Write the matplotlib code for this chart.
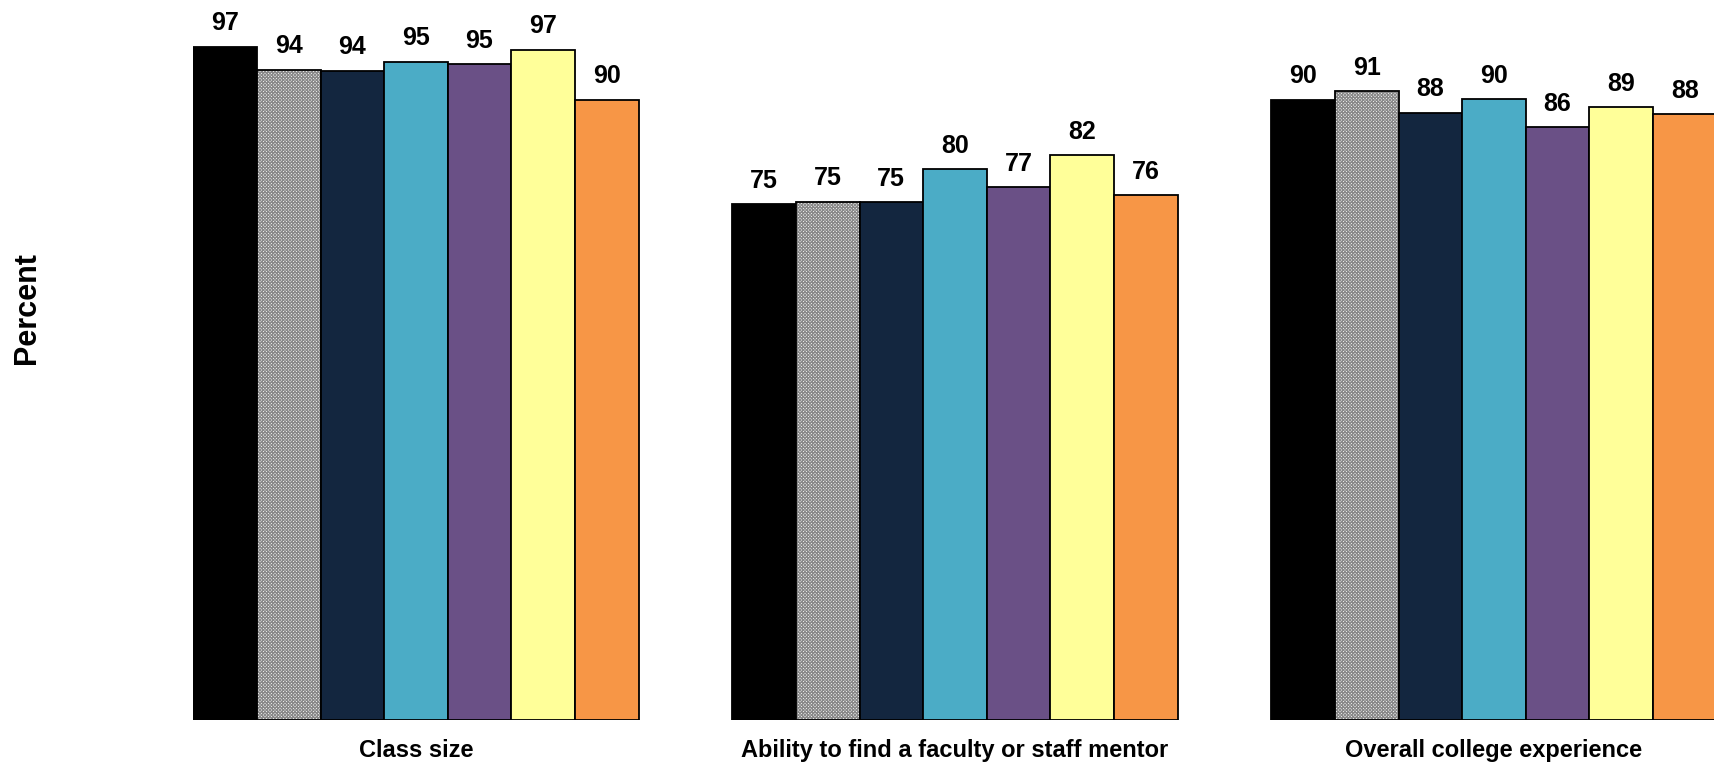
import matplotlib
matplotlib.use("Agg")
import matplotlib.pyplot as plt

plt.rcParams['font.family'] = ['Liberation Sans', 'DejaVu Sans']
plt.rcParams['hatch.linewidth'] = 0.9

# Data (bar heights estimated, labels shown rounded)
categories = ["Class size", "Ability to find a faculty or staff mentor", "Overall college experience"]
class_size = [97.0, 93.8, 93.7, 94.9, 94.6, 96.6, 89.6]
mentor = [75.0, 75.4, 75.3, 79.9, 77.4, 81.9, 76.3]
overall = [89.6, 90.8, 87.8, 89.7, 85.8, 88.6, 87.6]
series_values = [class_size, mentor, overall]

bar_colors = ["#000000", "#ffffff", "#13263f", "#4bacc6", "#6a5086", "#ffff99", "#f79646"]
hatched = 1  # second bar in every group is the grey checkered one

W, H = 1714, 764
fig = plt.figure(figsize=(W / 100, H / 100), dpi=100)

# axes placed in pixels so bars line up with the reference
left_px, base_px, top_px = 193.3, 720, 25.5
bar_px = 63.6
ax = fig.add_axes([left_px / W, (H - base_px) / H, (W - left_px) / W, (base_px - top_px) / H])
ymin, ymax = 3, 100
ax.set_ylim(ymin, ymax)
ax.set_xlim(0, (W - left_px) / bar_px)
ax.axis('off')

group_step = 8.475

for g, vals in enumerate(series_values):
    x0 = g * group_step
    for i, v in enumerate(vals):
        x = x0 + i
        if i == hatched:
            ax.bar(x, v - ymin, bottom=ymin, width=1, align='edge', color='white',
                   edgecolor='#8a8a8a', hatch='x' * 10, linewidth=0)
            ax.bar(x, v - ymin, bottom=ymin, width=1, align='edge', fill=False,
                   edgecolor='black', linewidth=1.3)
        else:
            ax.bar(x, v - ymin, bottom=ymin, width=1, align='edge', color=bar_colors[i],
                   edgecolor='black', linewidth=1.3)
        ax.annotate(f"{v:.0f}", (x + 0.5, v), xytext=(0, 11.9), textcoords='offset points',
                    ha='center', va='baseline', fontsize=18, fontweight='bold')
    ax.text(x0 + 3.5, -37 / (base_px - top_px), categories[g], transform=ax.get_xaxis_transform(),
            ha='center', va='baseline', fontsize=17, fontweight='bold', clip_on=False)

fig.text(27 / W, 1 - 308.5 / H, "Percent", rotation=90, ha='center', va='center',
         fontsize=22, fontweight='bold')

fig.savefig("out.png", dpi=100)
